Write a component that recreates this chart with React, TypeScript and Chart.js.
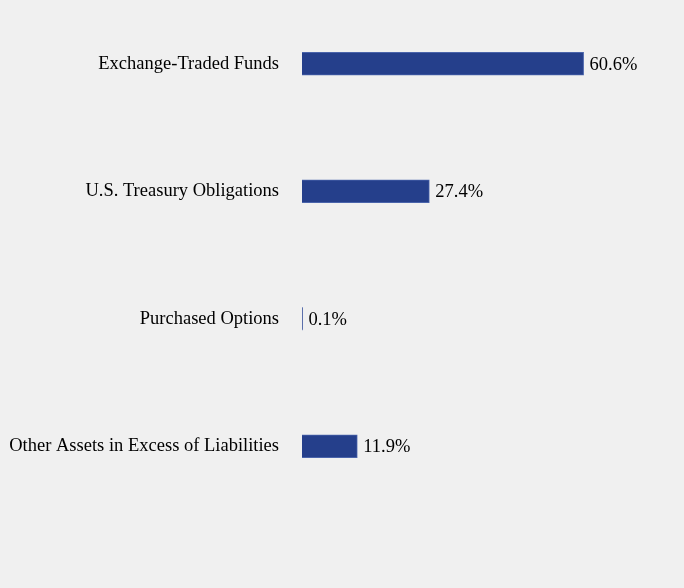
import React, { useEffect, useRef } from "react";
import { Chart, registerables } from "chart.js";

Chart.register(...registerables);

const categories = [
  "Exchange-Traded Funds",
  "U.S. Treasury Obligations",
  "Purchased Options",
  "Other Assets in Excess of Liabilities",
];
const values = [60.6, 27.4, 0.1, 11.9];
const valueLabels = ["60.6%", "27.4%", "0.1%", "11.9%"];

const FONT = "'Liberation Serif', 'Times New Roman', serif";

const valueLabelPlugin = {
  id: "valueLabels",
  afterDatasetsDraw(chart: any) {
    const ctx = chart.ctx;
    const meta = chart.getDatasetMeta(0);
    ctx.save();
    ctx.font = `18.5px ${FONT}`;
    ctx.fillStyle = "#000";
    ctx.textBaseline = "middle";
    ctx.textAlign = "left";
    meta.data.forEach((bar: any, i: number) => {
      ctx.fillText(valueLabels[i], bar.x + 6, bar.y + 1);
    });
    ctx.restore();
  },
};

export default function App() {
  const ref = useRef<HTMLCanvasElement>(null);
  useEffect(() => {
    document.body.style.margin = "0";
    document.body.style.background = "#f0f0f0";
    const chart = new Chart(ref.current!, {
      type: "bar",
      data: {
        labels: categories,
        datasets: [
          {
            data: values,
            backgroundColor: "#253f8b",
            borderColor: "#4a64ab",
            borderWidth: 1,
            barThickness: 23,
          },
        ],
      },
      options: {
        indexAxis: "y",
        animation: false,
        responsive: false,
        layout: { padding: { top: 0, bottom: 78, right: 0, left: 0 } },
        plugins: { legend: { display: false }, tooltip: { enabled: false } },
        scales: {
          x: { display: false, min: 0, max: 82.2 },
          y: {
            grid: { display: false },
            border: { display: false },
            ticks: {
              color: "#000",
              font: { family: FONT, size: 18.5 },
              padding: 15,
            },
            afterFit(scale: any) {
              scale.width = 302;
              scale.paddingTop = 0;
              scale.paddingBottom = 0;
            },
          },
        },
      },
      plugins: [valueLabelPlugin],
    });
    return () => chart.destroy();
  }, []);
  return (
    <div style={{ width: 684, height: 588, background: "#f0f0f0" }}>
      <canvas ref={ref} width={684} height={588} />
    </div>
  );
}
